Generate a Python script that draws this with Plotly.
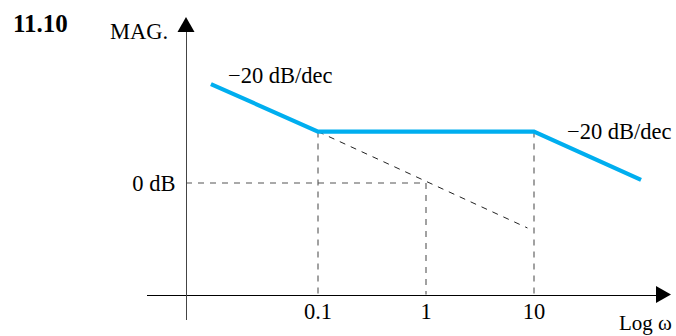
import numpy as np
import plotly.graph_objects as go

# ---- data ----
omega_asym = [0.0102, 0.1, 10.0, 98.0]      # asymptotic Bode magnitude break points (rad/s)
mag_asym = [38.5, 20.0, 20.0, 1.2]          # dB
omega_ext = [0.1, 8.7]                      # dashed extension of the -20 dB/dec slope
mag_ext = [20.0, -17.5]
omega_marks = [0.1, 1.0, 10.0]              # dashed drop lines
mag_marks = [20.0, 0.0, 20.0]
tick_omega = [0.1, 1.0, 10.0]
tick_text = ["0.1", "1", "10"]
ytick_vals = [0.0]
ytick_text = ["0 dB"]
slope_label = "\u221220 dB/dec"

# ---- layout helpers (pixel geometry of the 676x336 canvas) ----
W, H = 676, 336
X0PX, PX_PER_DEC = 426.0, 108.0     # pixel of omega=1, pixels per decade
Y0PX, PX_PER_DB = 183.0, 2.57       # pixel of 0 dB, pixels per dB
XL, XR = 147.0, 656.0               # x-axis line extent (px)
YB, YT = 320.0, 32.0                # y-axis line extent (px)
XAXIS_Y, YAXIS_X = 294.5, 186.0

def fx(p):
    return p / W

def fy(p):
    return 1 - p / H

lg = np.log10
FONT = "Liberation Serif"
FS = 22.5
BLUE = "#00AEEF"
DASH = "6px,6px"

fig = go.Figure()

# drop lines
for w, m in zip(omega_marks, mag_marks):
    fig.add_trace(go.Scatter(
        x=[lg(w), lg(w)], y=[m, (Y0PX - XAXIS_Y) / PX_PER_DB],
        mode="lines", line=dict(color="#555555", width=1.1, dash=DASH),
        hoverinfo="skip", showlegend=False, cliponaxis=False))
# 0 dB horizontal
fig.add_trace(go.Scatter(
    x=[(YAXIS_X - X0PX) / PX_PER_DEC, lg(omega_marks[1])], y=[ytick_vals[0], ytick_vals[0]],
    mode="lines", line=dict(color="#555555", width=1.1, dash=DASH),
    hoverinfo="skip", showlegend=False, cliponaxis=False))
# slope extension
fig.add_trace(go.Scatter(
    x=lg(omega_ext), y=mag_ext, mode="lines",
    line=dict(color="#222222", width=1.0, dash=DASH),
    hoverinfo="skip", showlegend=False, cliponaxis=False))
# asymptotic magnitude
fig.add_trace(go.Scatter(
    x=lg(omega_asym), y=mag_asym, mode="lines",
    line=dict(color=BLUE, width=4.2),
    hoverinfo="skip", showlegend=False, cliponaxis=False))

xr = [(XL - X0PX) / PX_PER_DEC, (XR - X0PX) / PX_PER_DEC]
yr = [(Y0PX - YB) / PX_PER_DB, (Y0PX - YT) / PX_PER_DB]

fig.update_layout(
    width=W, height=H, margin=dict(l=0, r=0, t=0, b=0),
    paper_bgcolor="white", plot_bgcolor="white",
    font=dict(family=FONT, size=FS, color="black"),
    xaxis=dict(domain=[fx(XL), fx(XR)], range=xr, anchor="free", position=fy(XAXIS_Y),
               showline=True, linecolor="black", linewidth=1.3,
               tickmode="array", tickvals=lg(tick_omega), ticktext=tick_text,
               ticks="", showgrid=False, zeroline=False,
               tickfont=dict(family=FONT, size=FS, color="black"), ticklabelstandoff=-4),
    yaxis=dict(domain=[fy(YB), fy(YT)], range=yr, anchor="free", position=fx(YAXIS_X),
               showline=True, linecolor="#444444", linewidth=1.2,
               tickmode="array", tickvals=ytick_vals, ticktext=ytick_text,
               ticks="", showgrid=False, zeroline=False,
               tickfont=dict(family=FONT, size=FS, color="black"), ticklabelstandoff=6),
    showlegend=False,
)

# arrowheads
fig.add_shape(type="path", xref="paper", yref="paper", xsizemode="pixel", ysizemode="pixel",
              xanchor=fx(YAXIS_X), yanchor=fy(YT), path="M -8.5,0 L 8.5,0 L 0,15 Z",
              fillcolor="black", line=dict(width=0))
fig.add_shape(type="path", xref="paper", yref="paper", xsizemode="pixel", ysizemode="pixel",
              xanchor=fx(XR), yanchor=fy(XAXIS_Y), path="M 0,-8.5 L 0,8.5 L 15,0 Z",
              fillcolor="black", line=dict(width=0))

def label(text, xp, yp, xanchor="left", size=FS, bold=False):
    fig.add_annotation(text=f"<b>{text}</b>" if bold else text, x=fx(xp), y=fy(yp),
                       xref="paper", yref="paper", xanchor=xanchor, yanchor="middle",
                       showarrow=False, font=dict(family=FONT, size=size, color="black"))

label("11.10", 11, 24, size=25, bold=True)
label("MAG.", 170, 31, xanchor="right")
label(slope_label, 226, 76)
label(slope_label, 565, 132)
label("Log \u03c9", 674, 323, xanchor="right", size=21)

fig.write_html("out.html")
